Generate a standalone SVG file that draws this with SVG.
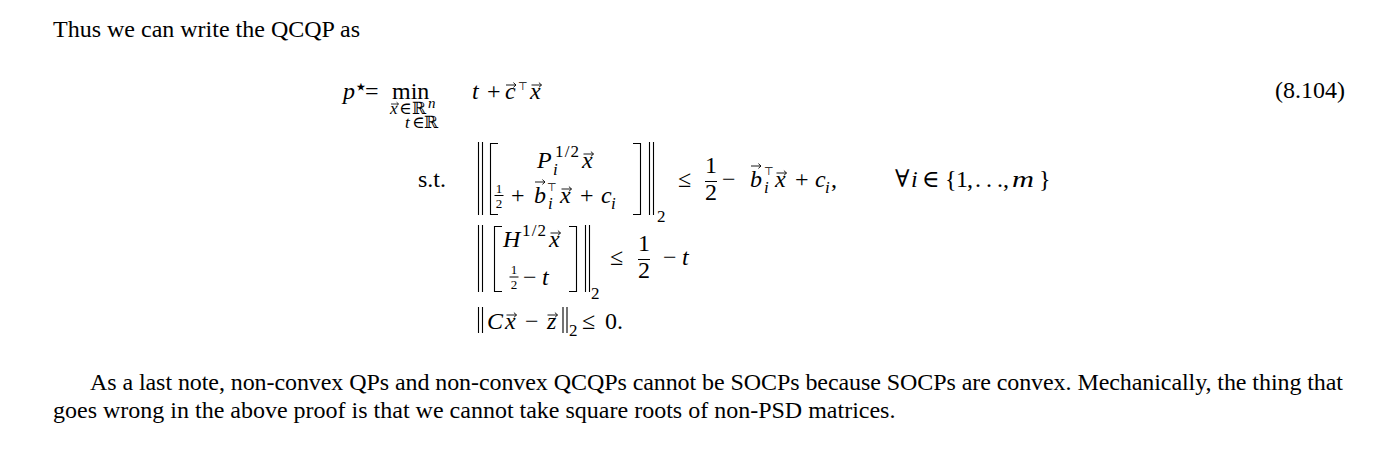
<svg xmlns="http://www.w3.org/2000/svg" width="1380" height="456" viewBox="0 0 1380 456">
<style>
.t{font-family:"Liberation Serif","DejaVu Serif",serif;font-size:24px;fill:#000}
.i{font-style:italic}
.s{font-size:17px}
.ss{font-size:13px}
.sy{font-family:"DejaVu Serif","Liberation Serif",serif}
.r17{font-size:17px}
.n15{font-size:15px}
.st{font-size:22px}
.top{font-family:"DejaVu Sans","Liberation Sans",sans-serif;font-size:11px;fill:#000}
.ln{stroke:#000;stroke-width:1.1;fill:none}
.fr{stroke:#000;stroke-width:1;fill:none}
</style>
<defs>
<g id="vec"><path d="M0,0 H10 M7.4,-2.4 L10,0 L7.4,2.4" stroke="#000" stroke-width="0.9" fill="none"/></g>
<g id="vecs"><path d="M0,0 H7.5 M5.6,-1.8 L7.5,0 L5.6,1.8" stroke="#000" stroke-width="0.8" fill="none"/></g>
</defs>
<rect width="1380" height="456" fill="#fff"/>
<g id="intro">
<text class="t" x="53" y="37">Thus we can write the QCQP as</text>
</g>
<g id="objective">
<text class="t i" x="343" y="99">p</text>
<text class="t sy st" x="353.5" y="94">⋆</text>
<text class="t" x="365" y="99">=</text>
<text class="t" x="392" y="99">min</text>
<text class="t i s" x="390" y="114">x</text>
<use href="#vecs" x="391" y="104"/>
<text class="t sy s" x="399" y="114">∈</text>
<text class="t sy r17" x="412" y="114">ℝ</text>
<text class="t i n15" x="428" y="108">n</text>
<text class="t i s" x="405" y="128">t</text>
<text class="t sy s" x="412" y="128">∈</text>
<text class="t sy r17" x="424" y="128">ℝ</text>
<text class="t i" x="472" y="99">t</text>
<text class="t" x="487" y="99">+</text>
<text class="t i" x="505" y="99">c</text>
<use href="#vec" x="506" y="85"/>
<text class="top" x="518" y="90">⊤</text>
<text class="t i" x="530" y="99">x</text>
<use href="#vec" x="531.5" y="85"/>
<text class="t" x="1345" y="98" text-anchor="end">(8.104)</text>
</g>
<g id="constraint1">
<text class="t" x="418" y="187">s.t.</text>
<path class="ln" d="M478.5,142 V215 M482.5,142 V215"/>
<path class="ln" d="M498,143.5 H490.5 V214.5 H498"/>
<text class="t i" x="537" y="168">P</text>
<text class="t s" x="555" y="157" textLength="24">1/2</text>
<text class="t i s" x="553" y="175">i</text>
<text class="t i" x="582" y="168">x</text>
<use href="#vec" x="583.5" y="154"/>
<text class="t ss" x="499" y="193" text-anchor="middle">1</text>
<path class="fr" d="M494.5,195.5 H503.5"/>
<text class="t ss" x="499" y="207.5" text-anchor="middle">2</text>
<text class="t" x="511" y="203">+</text>
<text class="t i" x="534" y="203">b</text>
<use href="#vec" x="535" y="182"/>
<text class="top" x="547" y="191">⊤</text>
<text class="t i s" x="548" y="209">i</text>
<text class="t i" x="560" y="203">x</text>
<use href="#vec" x="561.5" y="189"/>
<text class="t" x="580" y="203">+</text>
<text class="t i" x="601" y="203">c</text>
<text class="t i s" x="611" y="209">i</text>
<path class="ln" d="M633,143.5 H640.5 V214.5 H633"/>
<path class="ln" d="M649.5,142 V215 M653.5,142 V215"/>
<text class="t s" x="657" y="222">2</text>
<text class="t" x="678" y="187">≤</text>
<text class="t" x="711" y="172.5" text-anchor="middle">1</text>
<path class="fr" d="M705,181.5 H717"/>
<text class="t" x="711" y="199.5" text-anchor="middle">2</text>
<text class="t" x="722" y="187">−</text>
<text class="t i" x="750" y="187">b</text>
<use href="#vec" x="751" y="166"/>
<text class="top" x="764" y="175">⊤</text>
<text class="t i s" x="764" y="193">i</text>
<text class="t i" x="775" y="187">x</text>
<use href="#vec" x="776.5" y="173"/>
<text class="t" x="795" y="187">+</text>
<text class="t i" x="815" y="187">c</text>
<text class="t i s" x="825" y="193">i</text>
<text class="t" x="831" y="187">,</text>
<text class="t sy" x="895" y="187">∀</text>
<text class="t i" x="911" y="187">i</text>
<text class="t sy" x="922" y="187">∈</text>
<text class="t" x="945" y="187">{</text>
<text class="t" x="956" y="187">1</text>
<text class="t" x="967" y="187">,</text>
<text class="t" x="975" y="187" letter-spacing="5">...</text>
<text class="t" x="1003" y="187">,</text>
<text class="t i" x="1012" y="187" textLength="22" lengthAdjust="spacingAndGlyphs">m</text>
<text class="t" x="1039" y="187">}</text>
</g>
<g id="constraint2">
<path class="ln" d="M478.5,225 V292 M482.5,225 V292"/>
<path class="ln" d="M502,226.5 H494.5 V291.5 H502"/>
<text class="t i" x="503" y="247">H</text>
<text class="t s" x="522" y="236" textLength="24">1/2</text>
<text class="t i" x="549" y="247">x</text>
<use href="#vec" x="550.5" y="233"/>
<text class="t ss" x="514" y="274" text-anchor="middle">1</text>
<path class="fr" d="M509.5,277 H518.5"/>
<text class="t ss" x="514" y="289" text-anchor="middle">2</text>
<text class="t" x="523" y="285">−</text>
<text class="t i" x="542" y="285">t</text>
<path class="ln" d="M569,226.5 H576.5 V291.5 H569"/>
<path class="ln" d="M585.5,225 V292 M589.5,225 V292"/>
<text class="t s" x="591" y="299">2</text>
<text class="t" x="610" y="265">≤</text>
<text class="t" x="644" y="251" text-anchor="middle">1</text>
<path class="fr" d="M638,259.5 H650"/>
<text class="t" x="644" y="278" text-anchor="middle">2</text>
<text class="t" x="663" y="265">−</text>
<text class="t i" x="682" y="265">t</text>
</g>
<g id="constraint3">
<path class="ln" d="M478.5,307 V333 M482.5,307 V333"/>
<text class="t i" x="487" y="329">C</text>
<text class="t i" x="505" y="329">x</text>
<use href="#vec" x="506.5" y="315"/>
<text class="t" x="525" y="329">−</text>
<text class="t i" x="547" y="329">z</text>
<use href="#vec" x="547.5" y="315"/>
<path class="ln" d="M563,307 V333 M567,307 V333"/>
<text class="t s" x="569" y="336">2</text>
<text class="t" x="582" y="329">≤</text>
<text class="t" x="605" y="329">0.</text>
</g>
<g id="closing">
<text class="t" x="90" y="390" textLength="1253" lengthAdjust="spacing">As a last note, non-convex QPs and non-convex QCQPs cannot be SOCPs because SOCPs are convex. Mechanically, the thing that</text>
<text class="t" x="53" y="418">goes wrong in the above proof is that we cannot take square roots of non-PSD matrices.</text>
</g>
</svg>
